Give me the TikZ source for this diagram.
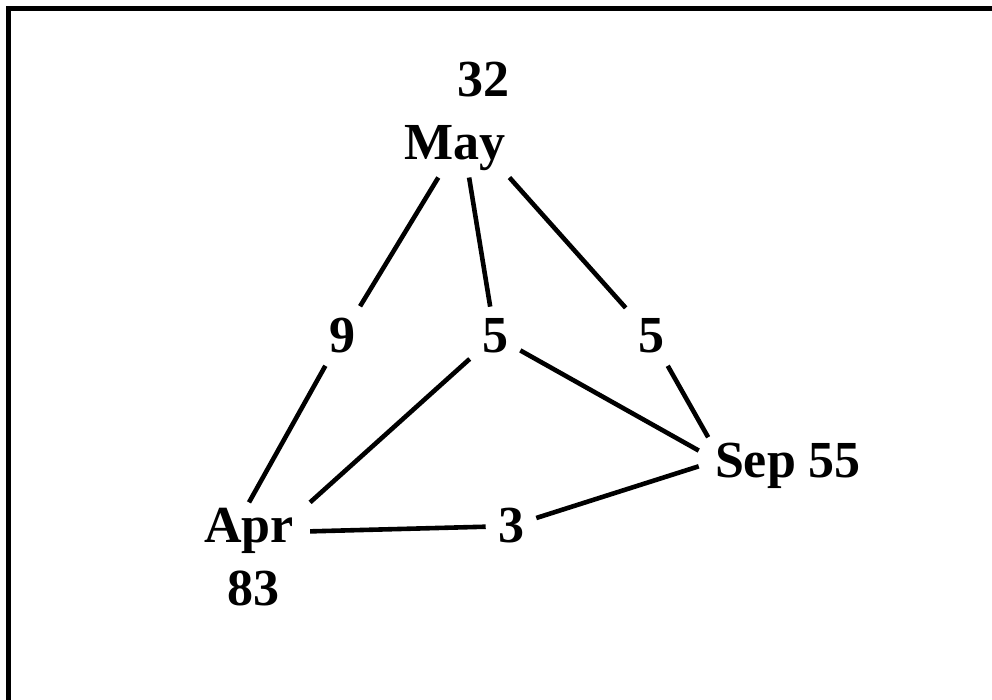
\documentclass[tikz,border=0pt]{standalone}
\usepackage{fontspec}
\setmainfont{Liberation Serif}
\begin{document}
\begin{tikzpicture}[x=0.5pt,y=-0.5pt,line width=2.3pt]
		\tikzset{edge/.style = {draw, -}}
		\tikzset{month/.style = {font=\fontsize{26}{30}\selectfont\bfseries, inner xsep=7pt, inner ysep=2pt, anchor=base}}
		\tikzset{weight/.style = {font=\fontsize{26}{30}\selectfont\bfseries, inner sep=5pt, anchor=base}}
		
		% frame
		\useasboundingbox (0,0) rectangle (992,700);
		\clip (0,0) rectangle (992,700);
		\draw[line width=2.7pt] (8.5,8.5) rectangle (1010,712);
		
		% nodes
		\node[month] (may) at (455,160) {May};
		\node[month] (apr) at (249,543) {Apr};
		\node[month] (sep) at (788,478) {Sep 55};
		\node[month] (maycount) at (483,97) {32};
		\node[month] (aprcount) at (253,605) {83};
		
		% weights
		\node[weight] (w9) at (342,353) {9};
		\node[weight] (w5a) at (495,353) {5};
		\node[weight] (w5b) at (651,353) {5};
		\node[weight] (w3) at (511,543) {3};
		
		% edges
		\draw[edge] (may.-120) -- (w9);
		\draw[edge] (w9) -- (apr.north);
		\draw[edge] (may.-64) -- (w5a);
		\draw[edge] (w5a) -- (apr.north east);
		\draw[edge] (may.-28) -- (w5b);
		\draw[edge] (w5b) -- (sep.160);
		\draw[edge] (w5a) -- (sep.170);
		\draw[edge] (apr.east) -- (w3);
		\draw[edge] (w3) -- (sep.west);
\end{tikzpicture}
\end{document}
